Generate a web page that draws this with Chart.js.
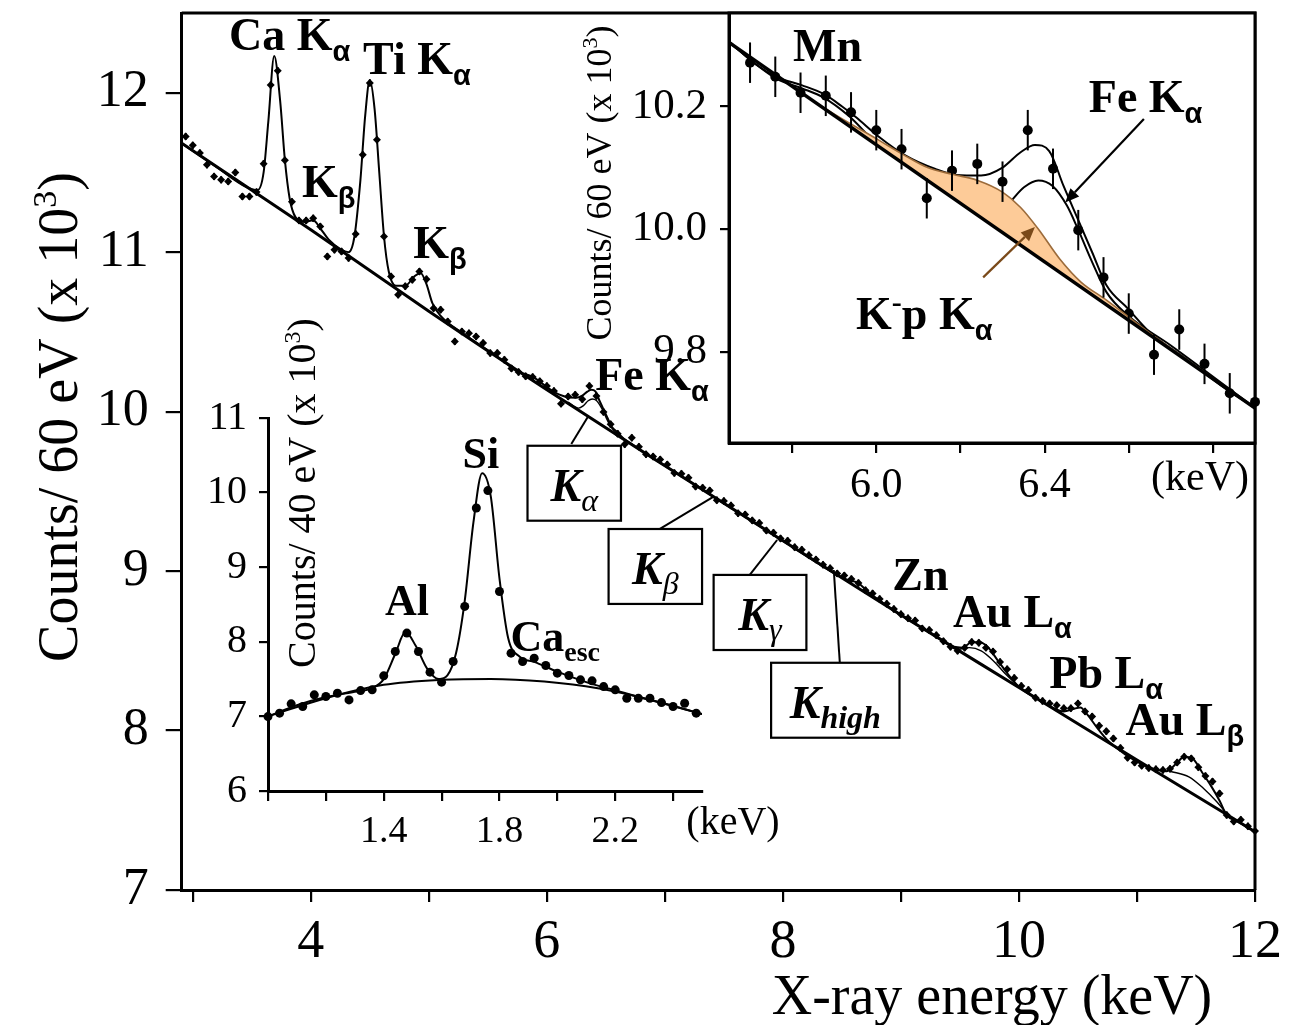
<!DOCTYPE html>
<html>
<head>
<meta charset="utf-8">
<script src="https://cdn.jsdelivr.net/npm/chart.js@4.4.1/dist/chart.umd.min.js"></script>
<style>
  html, body { margin: 0; padding: 0; background: #fff; }
  #wrap { position: relative; width: 1301px; height: 1025px; }
  #wrap canvas { position: absolute; left: 0; top: 0; }
</style>
</head>
<body>
<div id="wrap">
  <canvas id="mainChart" width="1301" height="1025"></canvas>
  <canvas id="feChart" width="1301" height="1025"></canvas>
  <canvas id="siChart" width="1301" height="1025"></canvas>
</div>
<script>
// full spectrum, 60 eV bins (keV / counts x 10^3)
const energy = [
  2.94, 3.00, 3.06, 3.12, 3.18, 3.24, 3.30, 3.36, 3.42, 3.48,
  3.54, 3.60, 3.66, 3.72, 3.78, 3.84, 3.90, 3.96, 4.02, 4.08,
  4.14, 4.20, 4.26, 4.32, 4.38, 4.44, 4.50, 4.56, 4.62, 4.68,
  4.74, 4.80, 4.86, 4.92, 4.98, 5.04, 5.10, 5.16, 5.22, 5.28,
  5.34, 5.40, 5.46, 5.52, 5.58, 5.64, 5.70, 5.76, 5.82, 5.88,
  5.94, 6.00, 6.06, 6.12, 6.18, 6.24, 6.30, 6.36, 6.42, 6.48,
  6.54, 6.60, 6.66, 6.72, 6.78, 6.84, 6.90, 6.96, 7.02, 7.08,
  7.14, 7.20, 7.26, 7.32, 7.38, 7.44, 7.50, 7.56, 7.62, 7.68,
  7.74, 7.80, 7.86, 7.92, 7.98, 8.04, 8.10, 8.16, 8.22, 8.28,
  8.34, 8.40, 8.46, 8.52, 8.58, 8.64, 8.70, 8.76, 8.82, 8.88,
  8.94, 9.00, 9.06, 9.12, 9.18, 9.24, 9.30, 9.36, 9.42, 9.48,
  9.54, 9.60, 9.66, 9.72, 9.78, 9.84, 9.90, 9.96, 10.02, 10.08,
  10.14, 10.20, 10.26, 10.32, 10.38, 10.44, 10.50, 10.56, 10.62, 10.68,
  10.74, 10.80, 10.86, 10.92, 10.98, 11.04, 11.10, 11.16, 11.22, 11.28,
  11.34, 11.40, 11.46, 11.52, 11.58, 11.64, 11.70, 11.76, 11.82, 11.88,
  11.94, 12.00
];
const counts = [
  11.726, 11.670, 11.622, 11.548, 11.475, 11.454, 11.444, 11.500, 11.349, 11.349,
  11.377, 11.555, 12.048, 12.138, 11.576, 11.316, 11.199, 11.199, 11.213, 11.161,
  10.973, 11.015, 11.005, 10.963, 11.114, 11.611, 12.061, 11.705, 11.099, 10.848,
  10.733, 10.786, 10.827, 10.879, 10.831, 10.649, 10.639, 10.565, 10.440, 10.502,
  10.492, 10.471, 10.430, 10.367, 10.367, 10.325, 10.271, 10.248, 10.222, 10.217,
  10.190, 10.161, 10.130, 10.050, 10.095, 10.106, 10.077, 10.161, 10.098, 9.998,
  9.921, 9.862, 9.795, 9.836, 9.780, 9.732, 9.718, 9.700, 9.668, 9.615,
  9.610, 9.585, 9.530, 9.522, 9.505, 9.445, 9.440, 9.412, 9.362, 9.355,
  9.318, 9.301, 9.255, 9.240, 9.205, 9.190, 9.150, 9.134, 9.100, 9.072,
  9.040, 9.018, 8.985, 8.972, 8.950, 8.925, 8.880, 8.860, 8.825, 8.795,
  8.762, 8.730, 8.705, 8.690, 8.640, 8.630, 8.598, 8.560, 8.525, 8.500,
  8.520, 8.555, 8.550, 8.520, 8.495, 8.430, 8.385, 8.330, 8.280, 8.255,
  8.205, 8.185, 8.170, 8.158, 8.140, 8.140, 8.170, 8.120, 8.088, 8.030,
  7.995, 7.950, 7.890, 7.830, 7.800, 7.780, 7.765, 7.758, 7.752, 7.760,
  7.800, 7.835, 7.825, 7.770, 7.715, 7.680, 7.605, 7.470, 7.430, 7.440,
  7.400, 7.370
];
const errMain = 0.022;

// continuum under the full spectrum
const bkgE = [2.90, 4.0, 5.0, 6.0, 7.0, 8.0, 9.0, 10.0, 11.0, 12.0];
const bkgC = [11.686, 11.14, 10.63, 10.137, 9.66, 9.19, 8.725, 8.27, 7.815, 7.366];

// total fit curve
const fitE = [
  2.90, 3.20, 3.45, 3.55, 3.60, 3.64, 3.69, 3.74, 3.78, 3.82, 3.87, 3.95, 4.02, 4.08,
  4.15, 4.25, 4.32, 4.37, 4.42, 4.46, 4.50, 4.54, 4.58, 4.62, 4.66, 4.72, 4.80, 4.88,
  4.93, 4.98, 5.03, 5.10, 5.30, 5.65, 5.714, 5.765, 5.824, 5.875, 5.918, 5.952, 6.003,
  6.071, 6.139, 6.190, 6.249, 6.300, 6.343, 6.377, 6.411, 6.445, 6.479, 6.513, 6.547,
  6.598, 6.649, 6.734, 6.819, 6.895, 7.5, 8.0, 8.45, 8.55, 8.64, 8.72, 8.85, 9.0, 9.3,
  9.45, 9.52, 9.60, 9.67, 9.74, 9.82, 9.90, 10.0, 10.2, 10.38, 10.46, 10.52, 10.58,
  10.66, 10.75, 10.9, 11.1, 11.25, 11.33, 11.40, 11.47, 11.55, 11.63, 11.70, 11.76,
  11.85, 12.0
];
const fitC = [
  11.686, 11.535, 11.41, 11.39, 11.50, 11.82, 12.23, 11.95, 11.58, 11.34, 11.22, 11.19, 11.20, 11.15,
  11.08, 11.02, 11.00, 11.10, 11.45, 11.85, 12.08, 11.90, 11.50, 11.10, 10.88, 10.79, 10.79, 10.85,
  10.87, 10.80, 10.68, 10.60, 10.485, 10.306, 10.268, 10.247, 10.234, 10.220, 10.200, 10.182, 10.152,
  10.119, 10.098, 10.088, 10.087, 10.100, 10.125, 10.137, 10.127, 10.070, 10.016, 9.962, 9.908,
  9.870, 9.832, 9.789, 9.745, 9.710, 9.425, 9.19, 8.98, 8.945, 8.925, 8.87, 8.80, 8.725, 8.59,
  8.525, 8.52, 8.553, 8.553, 8.52, 8.44, 8.36, 8.275, 8.18, 8.12, 8.135, 8.145, 8.10,
  8.02, 7.94, 7.85, 7.77, 7.745, 7.79, 7.835, 7.825, 7.74, 7.65, 7.56, 7.47,
  7.43, 7.366
];

// partial fits (one line left out), segments split by null
const partE = [6.18, 6.27, 6.31, 6.35, 6.385, 6.42, 6.45, 6.48, 6.51, 6.55, 6.60, 7.0,
  9.48, 9.58, 9.68, 9.78, 9.88, 10.0, 10.5, 11.28, 11.44, 11.56, 11.68, 11.78];
const partC = [10.06, 10.022, 10.038, 10.068, 10.079, 10.07, 10.04, 10.0, 9.95, 9.897, 9.859, null,
  8.508, 8.52, 8.50, 8.44, 8.36, 8.275, null, 7.745, 7.71, 7.64, 7.55, 7.46];

// Fe K-alpha window
const feBkgE = [5.65, 6.90];
const feBkgC = [10.304, 9.708];
const feTotE = [5.650, 5.714, 5.765, 5.824, 5.875, 5.918, 5.952, 6.003, 6.071, 6.139, 6.190, 6.249,
  6.300, 6.343, 6.377, 6.411, 6.445, 6.479, 6.513, 6.547, 6.598, 6.649, 6.734, 6.819, 6.895];
const feTotC = [10.306, 10.268, 10.247, 10.234, 10.220, 10.200, 10.182, 10.152, 10.119, 10.098, 10.088, 10.087,
  10.100, 10.125, 10.137, 10.127, 10.070, 10.016, 9.962, 9.908, 9.870, 9.832, 9.789, 9.745, 9.710];
const feLowE = [5.650, 5.765, 5.824, 5.875, 5.935, 6.003, 6.088, 6.181, 6.224, 6.266, 6.309, 6.351,
  6.385, 6.419, 6.453, 6.479, 6.513, 6.547, 6.598, 6.70, 6.90];
const feLowC = [10.304, 10.244, 10.229, 10.214, 10.184, 10.138, 10.100, 10.058, 10.035, 10.022, 10.038, 10.068,
  10.079, 10.070, 10.038, 10.000, 9.946, 9.897, 9.859, 9.81, 9.708];
const kpE = [5.65, 5.884, 6.003, 6.062, 6.122, 6.181, 6.241, 6.300, 6.343, 6.385, 6.436, 6.487, 6.547, 6.65, 6.90];
const kpC = [10.304, 10.194, 10.146, 10.122, 10.100, 10.089, 10.079, 10.060, 10.035, 10.000, 9.951, 9.913, 9.884, 9.830, 9.708];
const errFe = 0.033;

// low-energy spectrum, 40 eV bins
const siE = [1.00, 1.04, 1.08, 1.12, 1.16, 1.20, 1.24, 1.28, 1.32, 1.36, 1.40, 1.44, 1.48, 1.52, 1.56, 1.60,
  1.64, 1.68, 1.72, 1.76, 1.80, 1.84, 1.88, 1.92, 1.96, 2.00, 2.04, 2.08, 2.12, 2.16, 2.20, 2.24,
  2.28, 2.32, 2.36, 2.40, 2.44, 2.48];
const siC = [6.997, 7.043, 7.168, 7.132, 7.289, 7.266, 7.311, 7.221, 7.346, 7.356, 7.544, 7.870, 8.117, 7.870, 7.593, 7.459,
  7.736, 8.474, 9.794, 10.027, 8.675, 7.848, 7.736, 7.781, 7.682, 7.580, 7.548, 7.490, 7.477, 7.400, 7.356, 7.244,
  7.244, 7.244, 7.185, 7.132, 7.177, 7.043];
const siBkgE = [1.0, 1.2, 1.4, 1.6, 1.77, 1.955, 2.14, 2.325, 2.5];
const siBkgC = [7.0, 7.244, 7.423, 7.490, 7.503, 7.467, 7.378, 7.221, 7.03];
const siFitE = [1.00, 1.10, 1.20, 1.30, 1.36, 1.40, 1.44, 1.475, 1.51, 1.55, 1.59, 1.62, 1.65, 1.68, 1.71, 1.74,
  1.77, 1.80, 1.83, 1.87, 1.92, 2.00, 2.10, 2.20, 2.30, 2.40, 2.50];
const siFitC = [7.00, 7.15, 7.26, 7.33, 7.38, 7.50, 7.84, 8.13, 7.95, 7.64, 7.50, 7.55, 7.85, 8.55, 9.60, 10.26,
  9.95, 8.85, 8.05, 7.80, 7.73, 7.60, 7.46, 7.35, 7.24, 7.14, 7.03];

const SERIF = '"Liberation Serif", "Times New Roman", serif';
const SANS = '"Liberation Sans", Arial, sans-serif';
const xy = (xs, ys) => xs.map((x, i) => ({ x: x, y: ys[i] }));

// bold element name with a sans-serif subscript line label
function peak(main, sub, size) {
  size = size || 46;
  const parts = [{ text: main, font: 'bold ' + size + 'px ' + SERIF }];
  if (sub) parts.push({ text: sub, font: 'bold ' + Math.round(size * 0.64) + 'px ' + SANS, dy: Math.round(size * 0.24) });
  return parts;
}
function kbox(sub, bold) {
  return [
    { text: 'K', font: 'italic bold 46px ' + SERIF },
    { text: sub, font: 'italic ' + (bold ? 'bold ' : '') + '32px ' + SERIF, dy: 10 }
  ];
}
function ytitle(bin, size) {
  return [
    { text: 'Counts/ ' + bin + ' eV (x 10', font: size + 'px ' + SERIF },
    { text: '3', font: Math.round(size * 0.6) + 'px ' + SERIF, dy: -Math.round(size * 0.38) },
    { text: ')', font: size + 'px ' + SERIF }
  ];
}

function drawParts(ctx, x, y, parts, align) {
  let w = 0;
  parts.forEach(p => { ctx.font = p.font; w += ctx.measureText(p.text).width; });
  let cx = align === 'center' ? x - w / 2 : (align === 'right' ? x - w : x);
  parts.forEach(p => {
    ctx.font = p.font;
    ctx.fillText(p.text, cx, y + (p.dy || 0));
    cx += ctx.measureText(p.text).width;
  });
}

function arrowLine(ctx, x1, y1, x2, y2, color) {
  ctx.strokeStyle = color; ctx.fillStyle = color; ctx.lineWidth = 2.2;
  const a = Math.atan2(y2 - y1, x2 - x1);
  const hx = x2 - 14 * Math.cos(a), hy = y2 - 14 * Math.sin(a);
  ctx.beginPath(); ctx.moveTo(x1, y1); ctx.lineTo(hx, hy); ctx.stroke();
  ctx.beginPath();
  ctx.moveTo(x2, y2);
  ctx.lineTo(hx + 6 * Math.sin(a), hy - 6 * Math.cos(a));
  ctx.lineTo(hx - 6 * Math.sin(a), hy + 6 * Math.cos(a));
  ctx.closePath(); ctx.fill();
}

// text, boxes, arrows, error bars and frame drawn on top of each chart
function notes(cfg) {
  return {
    id: 'notes',
    beforeDraw(chart) {
      if (!cfg.background) return;
      const a = chart.chartArea, ctx = chart.ctx;
      ctx.save(); ctx.fillStyle = '#fff';
      ctx.fillRect(a.left, a.top, a.right - a.left, a.bottom - a.top);
      ctx.restore();
    },
    afterDatasetsDraw(chart) {
      const ctx = chart.ctx, ys = chart.scales.y, xs = chart.scales.x;
      ctx.save();
      chart.data.datasets.forEach(ds => {
        if (!ds.errorBar) return;
        ctx.strokeStyle = '#000'; ctx.lineWidth = 2;
        ds.data.forEach(p => {
          const px = xs.getPixelForValue(p.x);
          ctx.beginPath();
          ctx.moveTo(px, ys.getPixelForValue(p.y - ds.errorBar));
          ctx.lineTo(px, ys.getPixelForValue(p.y + ds.errorBar));
          ctx.stroke();
        });
      });
      ctx.restore();
    },
    afterDraw(chart) {
      const ctx = chart.ctx, a = chart.chartArea;
      const X = v => chart.scales.x.getPixelForValue(v);
      const Y = v => chart.scales.y.getPixelForValue(v);
      ctx.save();
      ctx.strokeStyle = '#000'; ctx.lineWidth = 3;
      if (cfg.frame === 'box') {
        ctx.strokeRect(a.left, a.top, a.right - a.left, a.bottom - a.top);
      } else if (cfg.frame === 'open') {
        ctx.beginPath();
        ctx.moveTo(a.left, a.top); ctx.lineTo(a.right, a.top); ctx.lineTo(a.right, a.bottom);
        ctx.stroke();
      }
      (cfg.boxes || []).forEach(b => {
        ctx.strokeStyle = '#000'; ctx.lineWidth = 2;
        ctx.beginPath();
        ctx.moveTo(X(b.leader[0]), Y(b.leader[1])); ctx.lineTo(X(b.leader[2]), Y(b.leader[3]));
        ctx.stroke();
        const x0 = X(b.x0), x1 = X(b.x1), y0 = Y(b.y0), y1 = Y(b.y1);
        ctx.fillStyle = '#fff';
        ctx.fillRect(x0, y0, x1 - x0, y1 - y0);
        ctx.lineWidth = 2.2;
        ctx.strokeRect(x0, y0, x1 - x0, y1 - y0);
        ctx.fillStyle = '#000'; ctx.textBaseline = 'alphabetic';
        drawParts(ctx, (x0 + x1) / 2, y1 - 20, b.parts, 'center');
      });
      (cfg.arrows || []).forEach(r => arrowLine(ctx, X(r.from[0]), Y(r.from[1]), X(r.to[0]), Y(r.to[1]), r.color));
      ctx.fillStyle = '#000';
      (cfg.labels || []).forEach(l => {
        const px = l.pixel ? l.x : X(l.x), py = l.pixel ? l.y : Y(l.y);
        ctx.save();
        ctx.textBaseline = l.baseline || 'alphabetic';
        ctx.translate(px, py);
        if (l.rotate) ctx.rotate(l.rotate);
        drawParts(ctx, 0, 0, l.parts, l.align || 'left');
        ctx.restore();
      });
      ctx.restore();
    }
  };
}

// fixes the axis box size so the plot area lands where the layout padding puts it
function fixedScale(size, horizontal) {
  return function (scale) {
    if (horizontal) scale.height = size; else scale.width = size;
    scale.paddingTop = 0; scale.paddingBottom = 0; scale.paddingLeft = 0; scale.paddingRight = 0;
  };
}
const near = (v, t) => Math.abs(v - t) < 1e-6;

function axis(opts) {
  return {
    type: 'linear', min: opts.min, max: opts.max,
    afterFit: fixedScale(opts.size, opts.horizontal),
    ticks: {
      stepSize: opts.step, includeBounds: false, autoSkip: false, maxRotation: 0,
      padding: opts.pad, color: '#000', font: { family: SERIF, size: opts.font },
      callback: opts.label
    },
    grid: { drawOnChartArea: false, color: '#000', lineWidth: 2.2, tickLength: opts.tick },
    border: { color: '#000', width: 3 }
  };
}

const common = {
  responsive: false, animation: false, events: [],
  plugins: { legend: { display: false }, tooltip: { enabled: false } }
};

// ---- full range spectrum ----
new Chart(document.getElementById('mainChart'), {
  type: 'line',
  data: {
    datasets: [
      { data: xy(bkgE, bkgC), borderColor: '#000', borderWidth: 3, pointRadius: 0, cubicInterpolationMode: 'monotone' },
      { data: xy(partE, partC), borderColor: '#000', borderWidth: 1.4, pointRadius: 0, cubicInterpolationMode: 'monotone', spanGaps: false },
      { data: xy(fitE, fitC), borderColor: '#000', borderWidth: 2, pointRadius: 0, cubicInterpolationMode: 'monotone' },
      { data: xy(energy, counts), showLine: false, pointStyle: 'rectRot', pointRadius: 4, pointBackgroundColor: '#000', pointBorderWidth: 0, clip: false, errorBar: errMain }
    ]
  },
  options: Object.assign({}, common, {
    layout: { padding: { left: 0, right: 46, top: 13, bottom: 0 } },
    scales: {
      x: axis({ min: 2.906, max: 12.0, step: 1, size: 135, horizontal: true, pad: 8, font: 54, tick: 12,
        label: v => (near(v, Math.round(v)) && Math.round(v) % 2 === 0) ? String(Math.round(v)) : '' }),
      y: axis({ min: 7, max: 12.5, step: 1, size: 181.7, horizontal: false, pad: 17, font: 52, tick: 16,
        label: v => String(v) })
    }
  }),
  plugins: [notes({
    frame: 'open',
    labels: [
      { x: 3.307, y: 12.268, parts: peak('Ca K', 'α') },
      { x: 4.443, y: 12.118, parts: peak('Ti K', 'α') },
      { x: 3.926, y: 11.348, parts: peak('K', 'β') },
      { x: 4.867, y: 10.962, parts: peak('K', 'β') },
      { x: 6.410, y: 10.136, parts: peak('Fe K', 'α') },
      { x: 8.926, y: 8.881, parts: peak('Zn') },
      { x: 9.442, y: 8.651, parts: peak('Au L', 'α') },
      { x: 10.257, y: 8.269, parts: peak('Pb L', 'α') },
      { x: 10.902, y: 7.972, parts: peak('Au L', 'β') },
      { x: 992, y: 1014, pixel: true, align: 'center', parts: [{ text: 'X-ray energy (keV)', font: '56px ' + SERIF }] },
      { x: 77, y: 417, pixel: true, align: 'center', rotate: -Math.PI / 2, parts: ytitle(60, 56) }
    ],
    boxes: [
      { x0: 5.836, x1: 6.628, y0: 9.786, y1: 9.316, leader: [6.207, 9.797, 6.348, 9.968], parts: kbox('α') },
      { x0: 6.523, x1: 7.315, y0: 9.264, y1: 8.794, leader: [6.919, 9.247, 7.413, 9.467], parts: kbox('β') },
      { x0: 7.413, x1: 8.199, y0: 8.976, y1: 8.505, leader: [7.719, 8.976, 7.951, 9.195], parts: kbox('γ') },
      { x0: 7.900, x1: 8.988, y0: 8.425, y1: 7.955, leader: [8.482, 8.425, 8.431, 9.007], parts: kbox('high', true) }
    ]
  })]
});

// ---- Fe K-alpha window ----
const feData = xy(energy, counts).filter(p => p.x > 5.68 && p.x < 6.92);
new Chart(document.getElementById('feChart'), {
  type: 'line',
  data: {
    datasets: [
      { data: xy(feBkgE, feBkgC), borderColor: '#000', borderWidth: 3.5, pointRadius: 0 },
      { data: xy(kpE, kpC), borderColor: '#9C6B3A', borderWidth: 1.6, backgroundColor: '#FDCB98', fill: 0, pointRadius: 0, cubicInterpolationMode: 'monotone' },
      { data: xy(feLowE, feLowC), borderColor: '#000', borderWidth: 2, pointRadius: 0, cubicInterpolationMode: 'monotone' },
      { data: xy(feTotE, feTotC), borderColor: '#000', borderWidth: 2, pointRadius: 0, cubicInterpolationMode: 'monotone' },
      { data: feData, showLine: false, pointRadius: 5, pointBackgroundColor: '#000', pointBorderWidth: 0, clip: false, errorBar: errFe }
    ]
  },
  options: Object.assign({}, common, {
    layout: { padding: { left: 529, right: 46, top: 13, bottom: 522 } },
    scales: {
      x: axis({ min: 5.65, max: 6.90, step: 0.2, size: 60, horizontal: true, pad: 8, font: 42, tick: 10,
        label: v => (near(v, 6.0) || near(v, 6.4)) ? v.toFixed(1) : '' }),
      y: axis({ min: 9.651, max: 10.352, step: 0.2, size: 200, horizontal: false, pad: 13, font: 43, tick: 9,
        label: v => v.toFixed(1) })
    }
  }),
  plugins: [notes({
    frame: 'box', background: true,
    labels: [
      { x: 5.802, y: 10.273, parts: peak('Mn') },
      { x: 6.505, y: 10.19, parts: peak('Fe K', 'α') },
      { x: 5.952, y: 9.837, parts: [
        { text: 'K', font: 'bold 46px ' + SERIF },
        { text: '-', font: 'bold 30px ' + SERIF, dy: -17 },
        { text: 'p K', font: 'bold 46px ' + SERIF },
        { text: 'α', font: 'bold 29px ' + SANS, dy: 11 }
      ] },
      { x: 1200, y: 479, pixel: true, align: 'center', baseline: 'middle', parts: [{ text: '(keV)', font: '42px ' + SERIF }] },
      { x: 611, y: 183, pixel: true, align: 'center', rotate: -Math.PI / 2, parts: ytitle(60, 36) }
    ],
    arrows: [
      { from: [6.636, 10.179], to: [6.449, 10.043], color: '#000' },
      { from: [6.254, 9.921], to: [6.377, 10.003], color: '#7A4A1A' }
    ]
  })]
});

// ---- Al / Si window ----
new Chart(document.getElementById('siChart'), {
  type: 'line',
  data: {
    datasets: [
      { data: xy(siBkgE, siBkgC), borderColor: '#000', borderWidth: 2, pointRadius: 0, cubicInterpolationMode: 'monotone' },
      { data: xy(siFitE, siFitC), borderColor: '#000', borderWidth: 2, pointRadius: 0, cubicInterpolationMode: 'monotone' },
      { data: xy(siE, siC), showLine: false, pointRadius: 4.5, pointBackgroundColor: '#000', pointBorderWidth: 0, clip: false }
    ]
  },
  options: Object.assign({}, common, {
    layout: { padding: { left: 168, right: 599, top: 418, bottom: 174 } },
    scales: {
      x: axis({ min: 1.0, max: 2.5, step: 0.2, size: 60, horizontal: true, pad: 8, font: 38, tick: 10,
        label: v => (near(v, 1.4) || near(v, 1.8) || near(v, 2.2)) ? v.toFixed(1) : '' }),
      y: axis({ min: 6, max: 11, step: 1, size: 100, horizontal: false, pad: 12, font: 40, tick: 9,
        label: v => String(v) })
    }
  }),
  plugins: [notes({
    labels: [
      { x: 1.48, y: 8.362, align: 'center', parts: peak('Al', null, 44) },
      { x: 1.736, y: 10.336, align: 'center', parts: peak('Si', null, 44) },
      { x: 1.838, y: 7.87, parts: [
        { text: 'Ca', font: 'bold 44px ' + SERIF },
        { text: 'esc', font: 'bold 28px ' + SERIF, dy: 10 }
      ] },
      { x: 733, y: 823, pixel: true, align: 'center', baseline: 'middle', parts: [{ text: '(keV)', font: '40px ' + SERIF }] },
      { x: 315, y: 493, pixel: true, align: 'center', rotate: -Math.PI / 2, parts: ytitle(40, 40) }
    ]
  })]
});
</script>
</body>
</html>
